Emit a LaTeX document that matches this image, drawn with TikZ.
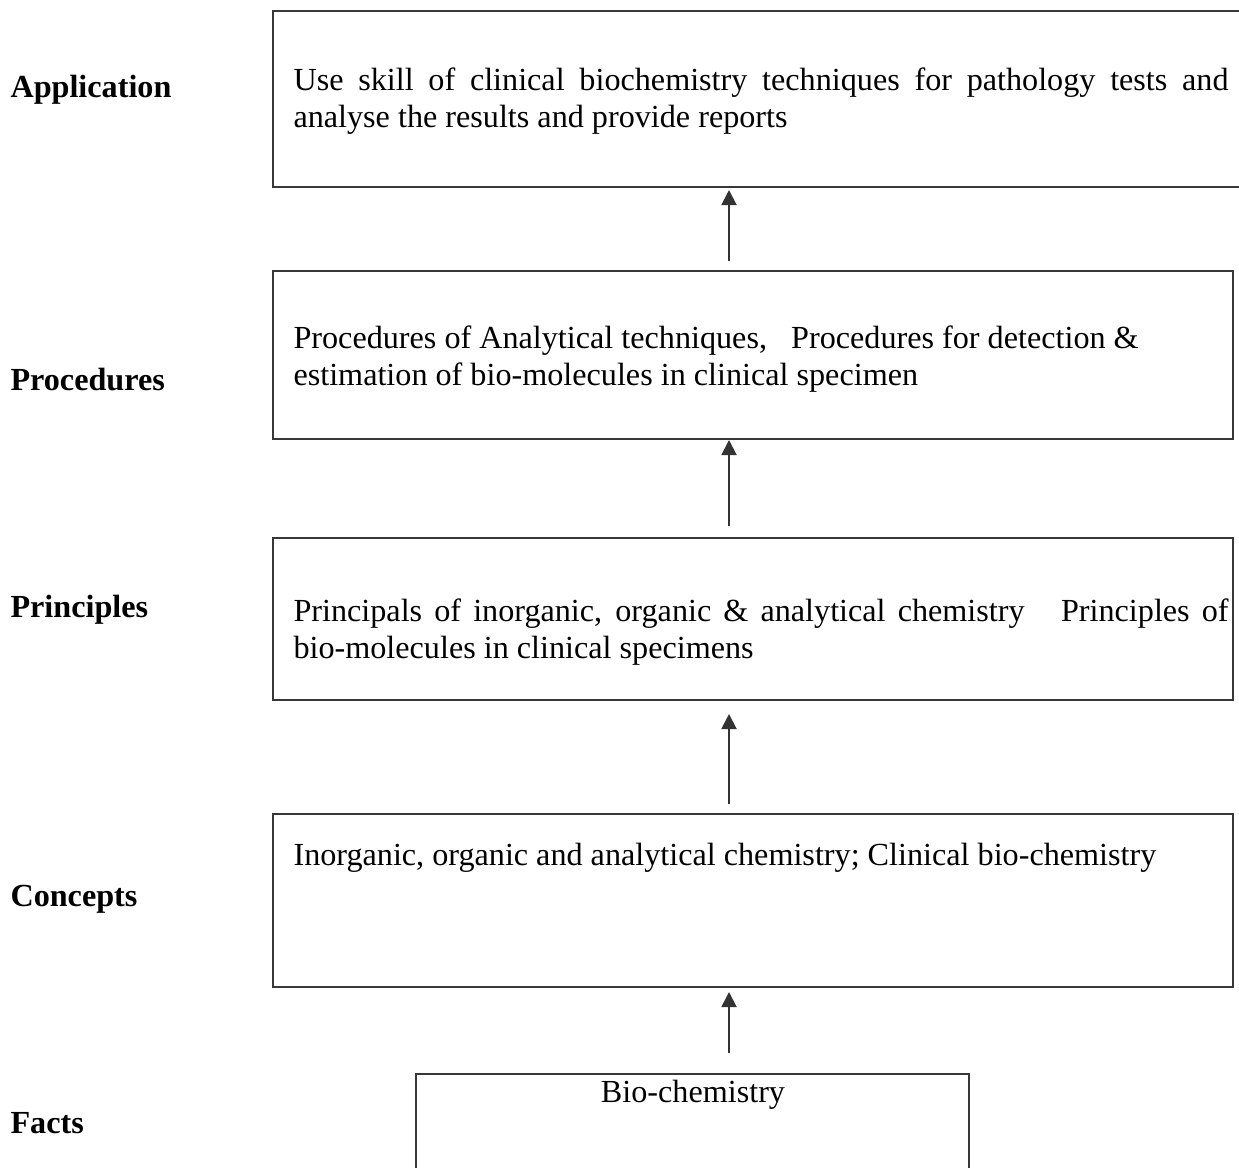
\documentclass[tikz,border=0pt]{standalone}
\usepackage{fontspec}
\setmainfont{Liberation Serif}
\usetikzlibrary{arrows.meta}
\newlength\px \setlength\px{0.373pt}
\begin{document}
\begin{tikzpicture}[x=0.373pt,y=-0.373pt,
  boxst/.style={draw=black!78,line width=0.75pt,inner sep=0pt},
  txt/.style={inner sep=0pt,font=\fontsize{12pt}{13.8pt}\selectfont},
  lab/.style={inner sep=0pt,font=\fontsize{12pt}{13.8pt}\selectfont\bfseries},
  arr/.style={draw=black!80,line width=0.75pt,-{Triangle[width=5.6pt,length=5.6pt]}}]
\useasboundingbox (0,0) rectangle (1239,1167);
% boxes
\node[boxst, minimum width=972\px, minimum height=176\px] (b1) at (759,99) {};
\node[boxst, minimum width=960\px, minimum height=168\px] (b2) at (753,355) {};
\node[boxst, minimum width=960\px, minimum height=162\px] (b3) at (753,619) {};
\node[boxst, minimum width=960\px, minimum height=173\px] (b4) at (753,900.5) {};
\node[boxst, minimum width=553\px, minimum height=106\px] (b5) at (692.5,1127) {};
% box texts
\node[txt, text width=935\px, align=justify, anchor=base west] (t1) at (293,90)
  {Use skill of clinical biochemistry techniques for pathology tests and\linebreak analyse the results and provide reports};
\node[txt, text width=935\px, align=flush left, anchor=base west] (t2) at (293,348)
  {Procedures of Analytical techniques,\ \ \ Procedures for detection \&\\ estimation of bio-molecules in clinical specimen};
\node[txt, text width=935\px, align=justify, anchor=base west] (t3) at (293,621)
  {Principals of inorganic, organic \& analytical chemistry\ \ \ Principles of\linebreak bio-molecules in clinical specimens};
\node[txt, anchor=base west] (t4) at (293,865)
  {Inorganic, organic and analytical chemistry; Clinical bio-chemistry};
\node[txt, anchor=base] (t5) at (693,1102) {Bio-chemistry};
% labels
\node[lab, anchor=base west] (l1) at (10,97) {Application};
\node[lab, anchor=base west] (l2) at (10,390) {Procedures};
\node[lab, anchor=base west] (l3) at (10,617) {Principles};
\node[lab, anchor=base west] (l4) at (10,906) {Concepts};
\node[lab, anchor=base west] (l5) at (10,1133) {Facts};
% arrows
\coordinate (ax) at (729,0);
\draw[arr] ([yshift=9\px]ax |- b2.north) -- ([yshift=-2\px]ax |- b1.south);
\draw[arr] ([yshift=11\px]ax |- b3.north) -- (ax |- b2.south);
\draw[arr] ([yshift=9\px]ax |- b4.north) -- ([yshift=-13\px]ax |- b3.south);
\draw[arr] ([yshift=20\px]ax |- b5.north) -- ([yshift=-4\px]ax |- b4.south);
\end{tikzpicture}
\end{document}
